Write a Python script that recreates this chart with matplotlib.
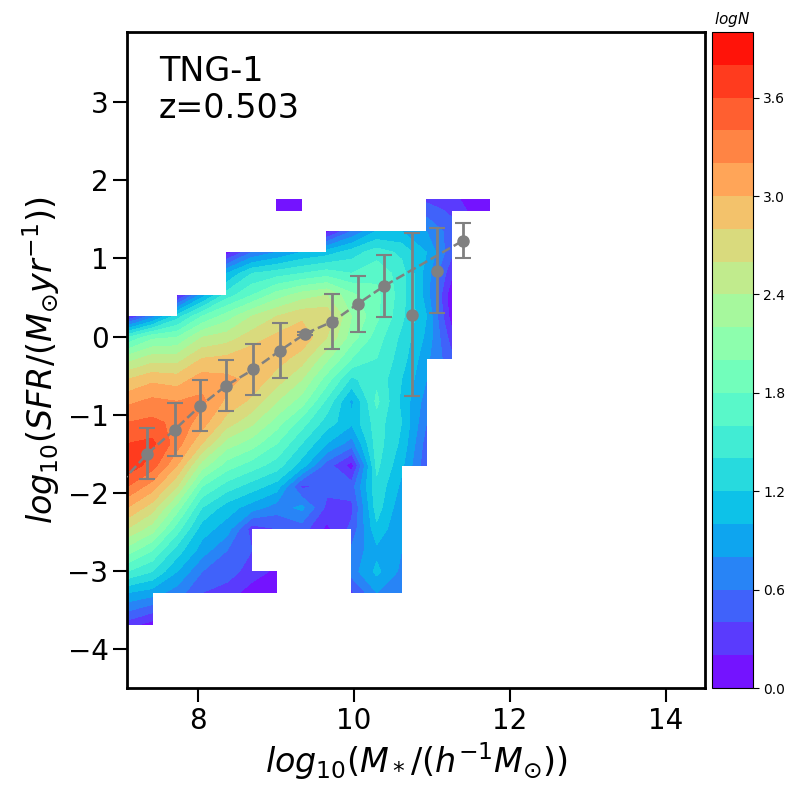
import numpy as np
import matplotlib
matplotlib.use("Agg")
import matplotlib.pyplot as plt

N = np.nan

# grid coordinates of the 2D histogram (log stellar mass, log SFR)
x_grid = [7.09, 7.41, 7.73, 8.05, 8.37, 8.69, 9.01, 9.33, 9.65, 9.97,
          10.29, 10.61, 10.93, 11.25, 11.57, 11.74]
y_grid = [-3.69, -3.28, -3.01, -2.74, -2.46, -2.19, -1.92, -1.65, -1.37, -1.10,
          -0.83, -0.55, -0.28, -0.01, 0.26, 0.53, 0.81, 1.08, 1.35, 1.62, 1.76]

# logN values, one row per y_grid entry (bottom to top); nan = empty bin
logN = [
    [0.3, 0.1, N, N, N, N, N, N, N, N, N, N, N, N, N, N],
    [1.0, 0.9, 0.7, 0.4, 0.3, 0.1, 0.1, N, N, 0.35, 0.8, 0.6, N, N, N, N],
    [1.6, 1.4, 1.0, 0.6, 0.5, 0.3, 0.15, N, N, 0.7, 1.05, 0.75, N, N, N, N],
    [2.1, 1.8, 1.3, 0.9, 0.6, 0.4, N, N, N, 0.65, 0.95, 0.8, N, N, N, N],
    [2.6, 2.3, 1.7, 1.1, 0.9, 0.3, 0.4, 0.5, 0.15, 0.45, 1.15, 0.8, N, N, N, N],
    [3.0, 2.7, 2.1, 1.4, 1.1, 0.9, 0.7, 0.85, 0.35, 0.35, 1.3, 0.85, N, N, N, N],
    [3.4, 3.1, 2.6, 1.8, 1.5, 1.3, 1.1, 0.35, 0.45, 0.5, 1.35, 0.95, N, N, N, N],
    [3.75, 3.5, 3.0, 2.3, 1.9, 1.7, 1.5, 1.1, 0.5, 0.1, 1.45, 1.05, 0.45, N, N, N],
    [3.6, 3.65, 3.3, 2.8, 2.3, 2.1, 1.8, 1.4, 1.0, 0.7, 1.5, 1.15, 0.5, N, N, N],
    [3.4, 3.45, 3.35, 3.1, 2.7, 2.45, 2.1, 1.7, 1.3, 1.05, 1.5, 1.2, 0.6, N, N, N],
    [3.15, 3.25, 3.2, 3.25, 2.95, 2.75, 2.4, 2.1, 1.55, 0.95, 1.65, 1.15, 0.7, N, N, N],
    [2.8, 2.95, 2.9, 3.1, 3.05, 2.95, 2.7, 2.4, 1.9, 1.35, 1.55, 1.2, 0.8, N, N, N],
    [2.3, 2.5, 2.5, 2.8, 2.85, 2.95, 2.9, 2.7, 2.25, 1.8, 1.6, 1.3, 0.85, 0.45, N, N],
    [1.6, 1.95, 2.0, 2.4, 2.5, 2.7, 2.85, 2.95, 2.6, 2.1, 1.7, 1.35, 0.95, 0.3, N, N],
    [0.15, 0.7, 1.3, 1.8, 2.1, 2.4, 2.6, 2.75, 2.75, 2.2, 1.85, 1.45, 1.0, 0.1, N, N],
    [N, N, 0.1, 0.9, 1.5, 1.8, 2.1, 2.3, 2.4, 2.05, 1.85, 1.5, 0.9, 0.05, N, N],
    [N, N, N, N, 1.0, 1.4, 1.5, 1.6, 1.7, 1.6, 1.75, 1.5, 0.9, 0.25, N, N],
    [N, N, N, N, 0.1, 0.6, 0.8, 1.0, 1.1, 1.3, 1.5, 1.35, 1.0, 0.45, N, N],
    [N, N, N, N, N, N, N, N, 0.1, 0.6, 1.0, 1.0, 0.8, 0.5, N, N],
    [N, N, N, N, N, N, 0.1, 0.1, N, N, N, N, 0.5, 0.35, 0.1, 0.1],
    [N, N, N, N, N, N, 0.1, 0.1, N, N, N, N, 0.35, 0.25, 0.1, 0.1],
]

# binned mean relation with scatter
mass_bins = [7.35, 7.70, 8.03, 8.36, 8.71, 9.05, 9.37, 9.72, 10.05, 10.39, 10.74, 11.07, 11.40]
sfr_mean = [-1.50, -1.19, -0.885, -0.628, -0.42, -0.18, 0.035, 0.19, 0.42, 0.65, 0.28, 0.846, 1.23]
sfr_err = [0.33, 0.34, 0.33, 0.33, 0.33, 0.35, 0.02, 0.35, 0.36, 0.40, 1.04, 0.54, 0.22]

# dashed relation line
line_x = [7.01, 7.35, 7.70, 8.03, 8.36, 8.71, 9.05, 9.37, 9.72, 10.05, 10.39, 11.40]
line_y = [-1.87, -1.50, -1.19, -0.885, -0.628, -0.42, -0.18, 0.035, 0.19, 0.42, 0.65, 1.23]

cbar_ticks = [0.0, 0.6, 1.2, 1.8, 2.4, 3.0, 3.6]

fig = plt.figure(figsize=(8, 8), dpi=100)
ax = fig.add_axes([0.159, 0.14, 0.722, 0.82])
cax = fig.add_axes([0.890, 0.14, 0.051, 0.82])

Z = np.ma.masked_invalid(np.array(logN, dtype=float))
levels = np.arange(0, 4.0001, 0.2)
cs = ax.contourf(x_grid, y_grid, Z, levels=levels, cmap='rainbow', corner_mask=False)

ax.plot(line_x, line_y, linestyle='--', color='grey', linewidth=1.8, zorder=3)
ax.errorbar(mass_bins, sfr_mean, yerr=sfr_err, fmt='o', color='grey',
            markersize=8, elinewidth=2, capsize=6, capthick=1.5, zorder=4)

ax.set_xlim(7.09, 14.5)
ax.set_ylim(-4.5, 3.9)
ax.set_xticks([8, 10, 12, 14])
ax.set_yticks([-4, -3, -2, -1, 0, 1, 2, 3])
ax.tick_params(axis='both', labelsize=20, length=10, width=1.5)
for s in ax.spines.values():
    s.set_linewidth(2)

ax.set_xlabel(r'$log_{10}(M_*/(h^{-1}M_{\odot}))$', fontsize=24)
ax.set_ylabel(r'$log_{10}(SFR/(M_{\odot}yr^{-1}))$', fontsize=24)
ax.text(0.055, 0.965, 'TNG-1\nz=0.503', transform=ax.transAxes, fontsize=24,
        va='top', ha='left', linespacing=1.15)

cb = fig.colorbar(cs, cax=cax, ticks=cbar_ticks)
cb.ax.set_yticklabels(['%.1f' % t for t in cbar_ticks])
cb.ax.tick_params(labelsize=10, length=4)
cb.ax.set_title('$logN$', fontsize=11)

fig.savefig('out.png', dpi=100)
